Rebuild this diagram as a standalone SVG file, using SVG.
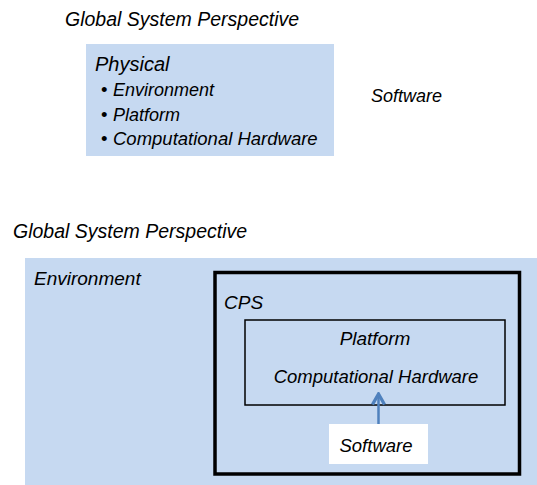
<svg xmlns="http://www.w3.org/2000/svg" width="537" height="485" viewBox="0 0 537 485">
<style>
  text { font-family: "Liberation Sans", Arial, sans-serif; font-style: italic; font-size: 18.5px; fill: #000; }
  .title { font-size: 19.5px; }
  .fill { fill: #C6D9F1; stroke: none; }
  .mid { text-anchor: middle; }
</style>
<defs>
  <marker id="arr" viewBox="0 0 10 10" refX="8.5" refY="5" markerWidth="6" markerHeight="6" orient="auto" markerUnits="strokeWidth">
    <path d="M1.5,1 L8.5,5 L1.5,9" fill="none" stroke="#4F81BD" stroke-width="2.2" stroke-linejoin="miter"/>
  </marker>
</defs>

<g id="top-title"><text class="title" x="65" y="26">Global System Perspective</text></g>

<g id="physical">
  <rect class="fill" x="86" y="44" width="248" height="112"/>
  <text x="95" y="71" style="font-size:20px">Physical</text>
  <text x="101" y="96" style="font-style:normal">•</text><text x="113" y="96" style="font-size:18px">Environment</text>
  <text x="101" y="121" style="font-style:normal">•</text><text x="113" y="121" style="font-size:18px">Platform</text>
  <text x="101" y="145" style="font-style:normal">•</text><text x="113" y="145" style="font-size:18.5px">Computational Hardware</text>
</g>

<g id="software-top"><text x="371" y="102" style="font-size:18px">Software</text></g>

<g id="bottom-title"><text class="title" x="13" y="238">Global System Perspective</text></g>

<g id="environment">
  <rect class="fill" x="25" y="258" width="512" height="227"/>
  <text x="34" y="285" style="font-size:19px">Environment</text>
</g>

<g id="cps">
  <rect x="215" y="272.5" width="304.5" height="201.5" fill="none" stroke="#000" stroke-width="3.5"/>
  <text x="224" y="309" style="font-size:19px">CPS</text>
</g>

<g id="platform">
  <rect x="245" y="320" width="260" height="85" fill="none" stroke="#000" stroke-width="1.5"/>
  <text class="mid" x="375" y="345" style="font-size:19px">Platform</text>
  <text class="mid" x="376" y="383">Computational Hardware</text>
</g>

<g id="software">
  <rect x="329" y="424" width="99" height="40" fill="#FFFFFF"/>
  <text class="mid" x="376" y="452">Software</text>
</g>

<g id="connectors">
  <line x1="378.5" y1="424" x2="378.5" y2="394" stroke="#4F81BD" stroke-width="2.5" marker-end="url(#arr)"/>
</g>
</svg>
